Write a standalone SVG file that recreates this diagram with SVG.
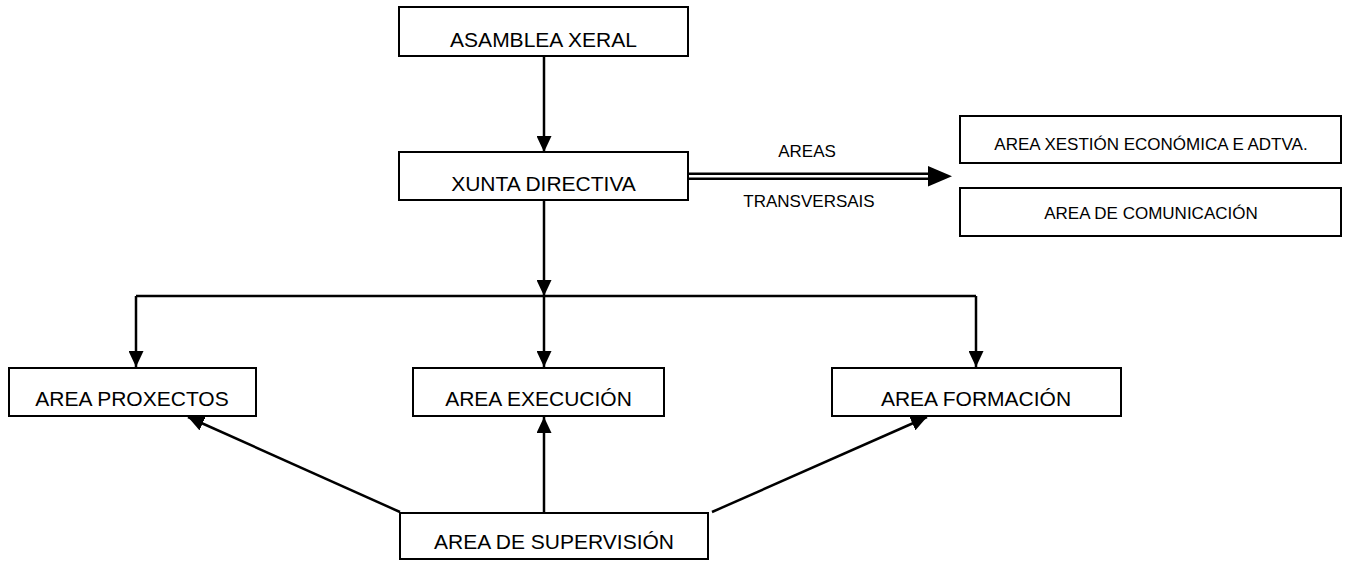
<svg xmlns="http://www.w3.org/2000/svg" width="1349" height="561" viewBox="0 0 1349 561">
<style>
.box{fill:#fff;stroke:#000;stroke-width:2}
.t{font-family:"Liberation Sans",Arial,sans-serif;font-size:21px;fill:#000;text-anchor:middle}
.s{font-family:"Liberation Sans",Arial,sans-serif;font-size:17px;fill:#000;text-anchor:middle}
.c{fill:none;stroke:#000;stroke-width:2.5}
</style>
<defs>
<marker id="ah" markerUnits="userSpaceOnUse" markerWidth="16" markerHeight="15" refX="16" refY="7.5" orient="auto">
<path d="M0,0 L16,7.5 L0,15 z" fill="#000"/>
</marker>
</defs>
<rect width="1349" height="561" fill="#fff"/>
<g id="connectors">
<line class="c" x1="544" y1="56" x2="544" y2="152" marker-end="url(#ah)"/>
<line class="c" x1="544" y1="200" x2="544" y2="296" marker-end="url(#ah)"/>
<line class="c" x1="136" y1="296" x2="976" y2="296"/>
<line class="c" x1="136" y1="296" x2="136" y2="367" marker-end="url(#ah)"/>
<line class="c" x1="544" y1="296" x2="544" y2="367" marker-end="url(#ah)"/>
<line class="c" x1="976" y1="296" x2="976" y2="367" marker-end="url(#ah)"/>
<line class="c" x1="544" y1="513" x2="544" y2="417" marker-end="url(#ah)"/>
<line class="c" x1="400" y1="512" x2="188" y2="417" marker-end="url(#ah)"/>
<line class="c" x1="712" y1="512" x2="927" y2="417" marker-end="url(#ah)"/>
<line x1="688" y1="176.2" x2="930" y2="176.2" stroke="#000" stroke-width="7.5"/>
<line x1="688" y1="176.2" x2="929" y2="176.2" stroke="#fff" stroke-width="2.5"/>
<polygon points="928,166 952,176.2 928,186.5" fill="#000"/>
<text class="s" x="807" y="157">AREAS</text>
<text class="s" x="809" y="207">TRANSVERSAIS</text>
</g>
<g id="asamblea">
<rect class="box" x="399" y="7" width="289" height="49"/>
<text class="t" x="543.5" y="47">ASAMBLEA XERAL</text>
</g>
<g id="xunta">
<rect class="box" x="399" y="152" width="289" height="48"/>
<text class="t" x="543.5" y="191">XUNTA DIRECTIVA</text>
</g>
<g id="xestion">
<rect class="box" x="960" y="116" width="381" height="47"/>
<text class="s" x="1151" y="150">AREA XESTIÓN ECONÓMICA E ADTVA.</text>
</g>
<g id="comunicacion">
<rect class="box" x="960" y="188" width="381" height="48"/>
<text class="s" x="1151" y="219">AREA DE COMUNICACIÓN</text>
</g>
<g id="proxectos">
<rect class="box" x="9" y="368" width="247" height="48"/>
<text class="t" x="132" y="406">AREA PROXECTOS</text>
</g>
<g id="execucion">
<rect class="box" x="413" y="368" width="251" height="48"/>
<text class="t" x="538.5" y="406">AREA EXECUCIÓN</text>
</g>
<g id="formacion">
<rect class="box" x="832" y="368" width="289" height="48"/>
<text class="t" x="976" y="406">AREA FORMACIÓN</text>
</g>
<g id="supervision">
<rect class="box" x="400" y="513" width="308" height="46"/>
<text class="t" x="554" y="549">AREA DE SUPERVISIÓN</text>
</g>
</svg>
